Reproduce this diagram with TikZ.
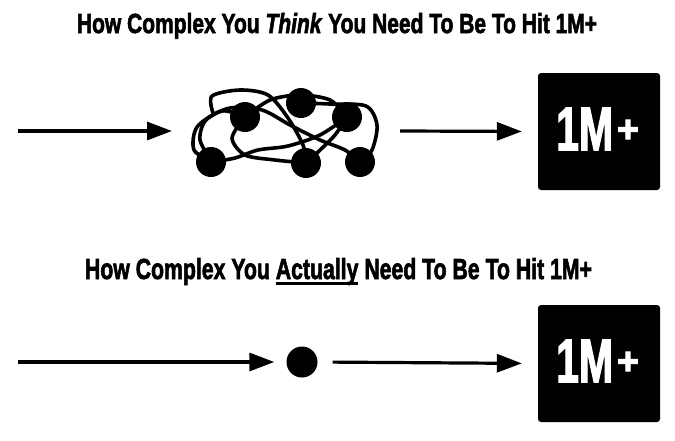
\documentclass[tikz,border=0pt]{standalone}
\usepackage{fontspec}
\setmainfont{Liberation Sans}
\newfontfamily\heavy{Liberation Sans Bold}[FakeBold=2.5, ItalicFont=Liberation Sans Bold Italic, ItalicFeatures={FakeBold=2.5}]
\usetikzlibrary{arrows.meta}
\tikzset{
  arr/.style={line width=3.2pt, -{Triangle[length=25pt,width=18pt]}},
  tangleline/.style={line width=3.6pt, line cap=round},
  bigdot/.style={circle, fill=black, inner sep=0pt, minimum size=30pt},
  goalbox/.style={fill=black, rounded corners=3pt, minimum width=122pt, minimum height=117pt, inner sep=0pt},
  title/.style={anchor=base, inner sep=0pt}
}
\newcommand{\heavyul}[1]{\setbox0\hbox{#1}\leavevmode\rlap{\vrule height -0.11em depth 0.22em width \wd0}\box0\relax}
\begin{document}
\begin{tikzpicture}[x=1pt,y=-1pt]
\useasboundingbox (0,0) rectangle (675,440);
% titles
\node[title] (t1) at (337,33) {\resizebox{520pt}{20pt}{\heavy How Complex You \textit{Think} You Need To Be To Hit 1M+}};
\node[title] (t2) at (338.5,279) {\resizebox{507pt}{21pt}{\heavy How Complex You \heavyul{Actually} Need To Be To Hit 1M+}};
% top row
\coordinate (s1) at (18,131);
\coordinate (e1) at (172,131);
\coordinate (s2) at (400,131);
\node[goalbox] (box1) at (599,131.5) {};
\node[anchor=base west, inner sep=0pt, text=white] (m1) at (556,150) {\resizebox{57pt}{42pt}{\heavy 1M}};
\node[anchor=center, inner sep=0pt, text=white] (p1) at (628,131) {\resizebox{22pt}{!}{\heavy +}};
\draw[arr] (s1) -- (e1);
\draw[arr, shorten >=16pt] (s2) -- (box1.west);
% tangle
\draw[tangleline] plot[smooth] coordinates {(212,162) (200,140) (206,120) (230,108) (262,110) (290,125) (320,140) (345,150) (360,162)};
\draw[tangleline] plot[smooth] coordinates {(213,113) (212,96) (240,90) (268,95) (288,118) (303,145) (306,163)};
\draw[tangleline] plot[smooth] coordinates {(212,162) (194,150) (197,127) (222,111) (245,117)};
\draw[tangleline] plot[smooth] coordinates {(301,103) (330,104) (366,106) (377,125) (372,150) (360,162)};
\draw[tangleline] plot[smooth] coordinates {(212,162) (235,158) (258,150) (288,146) (320,135) (347,117)};
\draw[tangleline] plot[smooth] coordinates {(245,117) (232,138) (245,155) (275,160) (306,163)};
\draw[tangleline] plot[smooth] coordinates {(245,117) (270,100) (300,95) (330,100) (347,117)};
\draw[tangleline] plot[smooth] coordinates {(347,117) (335,135) (318,152) (306,163)};
\node[bigdot] (d1) at (211,162) {};
\node[bigdot] (d2) at (245,117) {};
\node[bigdot] (d3) at (301,103) {};
\node[bigdot] (d4) at (347,117) {};
\node[bigdot] (d5) at (306,163) {};
\node[bigdot] (d6) at (360,162) {};
% bottom row
\coordinate (s3) at (18,362);
\node[bigdot, minimum size=31pt] (dot) at (302,362) {};
\node[goalbox] (box2) at (599,363.5) {};
\node[anchor=base west, inner sep=0pt, text=white] (m2) at (556,382) {\resizebox{57pt}{42pt}{\heavy 1M}};
\node[anchor=center, inner sep=0pt, text=white] (p2) at (628,363) {\resizebox{22pt}{!}{\heavy +}};
\draw[arr, shorten >=12pt] (s3) -- (dot.west);
\draw[arr, shorten <=15pt, shorten >=16pt] (dot.east) -- (box2.west);
\end{tikzpicture}
\end{document}
